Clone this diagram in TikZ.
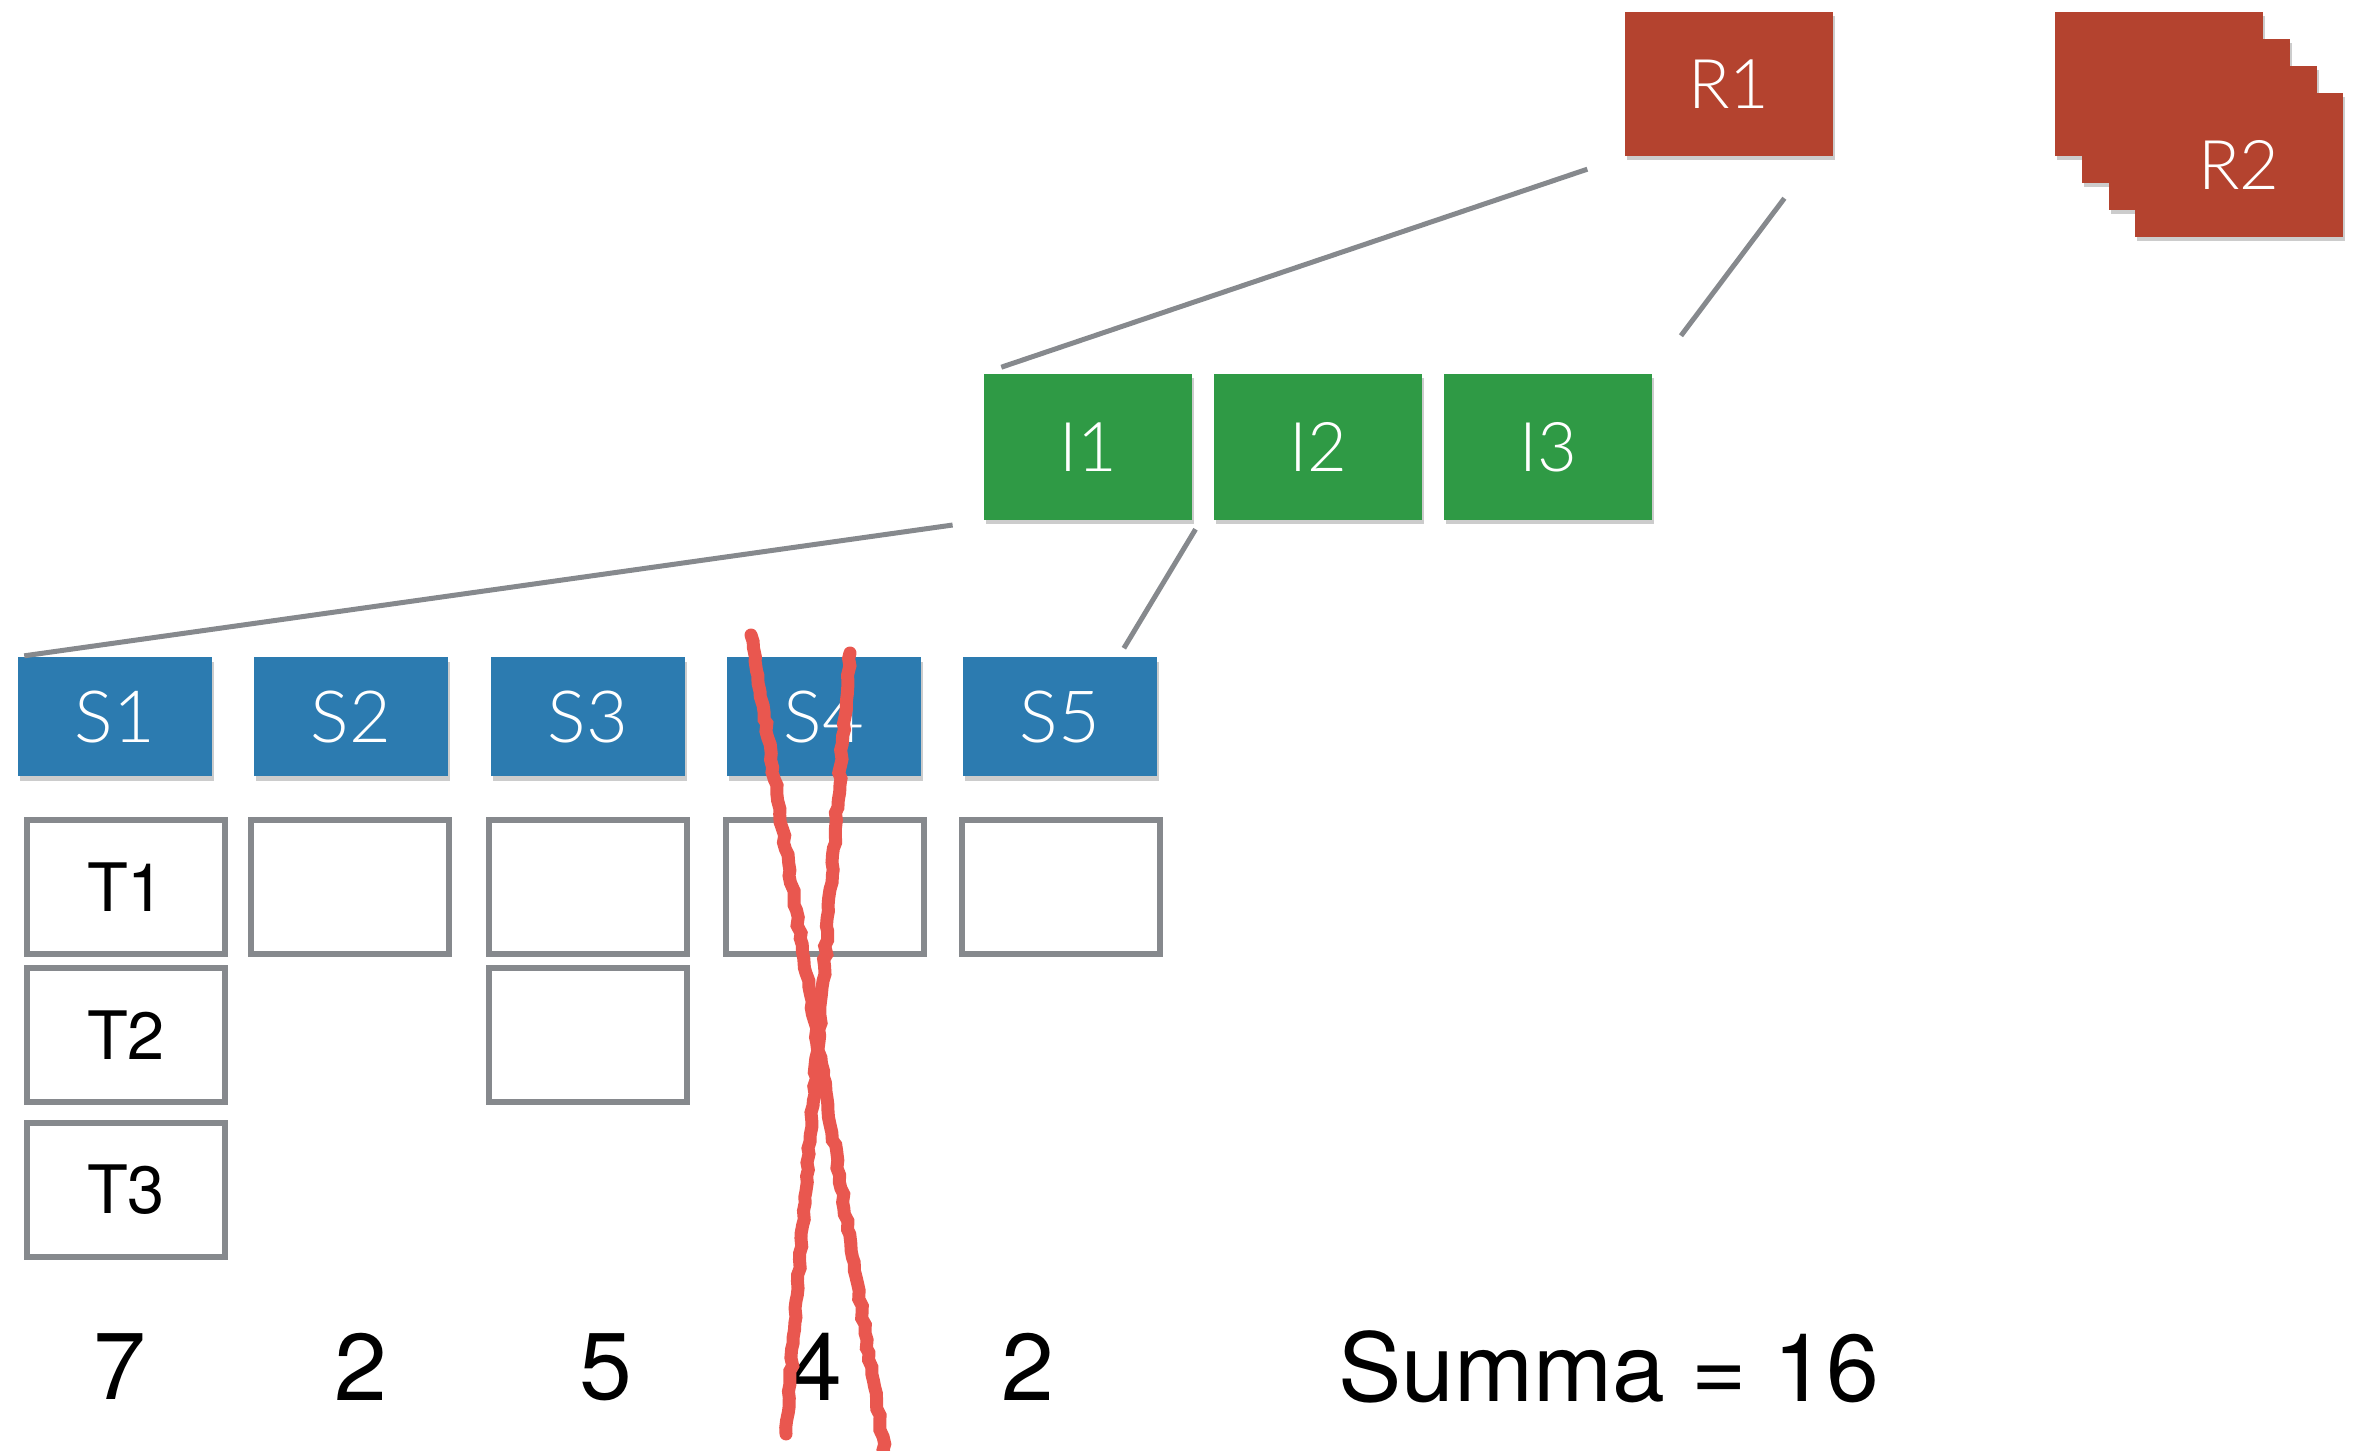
\documentclass[tikz,border=0pt]{standalone}
\usepackage{fontspec}
\setmainfont{TeX Gyre Heros}
\newfontfamily\cardfont{Lato}[UprightFont=* Light]
\usetikzlibrary{calc,shadows,decorations.pathmorphing}
\definecolor{regred}{HTML}{B4432F}
\definecolor{instgreen}{HTML}{2F9A45}
\definecolor{shardblue}{HTML}{2C7BB0}
\definecolor{linkgray}{HTML}{86898D}
\definecolor{crossred}{HTML}{E9574F}

\tikzset{
  card/.style={inner sep=0pt, text=white, font=\cardfont\fontsize{19.5}{21}\selectfont,
    drop shadow={shadow xshift=0.15mm, shadow yshift=-0.45mm, fill=black, opacity=0.2}},
  rbox/.style={card, fill=regred, minimum width=20.8mm, minimum height=14.4mm},
  ibox/.style={card, fill=instgreen, minimum width=20.8mm, minimum height=14.6mm},
  sbox/.style={card, fill=shardblue, minimum width=19.4mm, minimum height=11.9mm,
    font=\cardfont\fontsize{20.5}{22}\selectfont},
  tbox/.style={draw=linkgray, line width=0.55mm, fill=white, inner sep=0pt,
    minimum width=19.8mm, minimum height=13.4mm, font=\fontsize{19}{21}\selectfont},
  count/.style={inner sep=0pt, font=\fontsize{27}{30}\selectfont},
  link/.style={draw=linkgray, line width=0.5mm},
  cross/.style={draw=crossred, line width=1.3mm, line cap=round,
    decorate, decoration={random steps, segment length=0.7mm, amplitude=0.15mm}}
}

\begin{document}
\begin{tikzpicture}[x=0.1mm,y=-0.1mm]
\useasboundingbox (0,0) rectangle (2355,1451);

% regions
\node[rbox] (R1) at (1729,84) {R1};
\node[rbox] (R2d) at (2159,84) {};
\node[rbox] (R2c) at (2186,111) {};
\node[rbox] (R2b) at (2213,138) {};
\node[rbox] (R2) at (2239,165) {R2};

% instances
\node[ibox] (I1) at (1088,447) {I1};
\node[ibox] (I2) at (1318,447) {I2};
\node[ibox] (I3) at (1548,447) {I3};

% shards
\node[sbox] (S1) at (115,717) {S1};
\node[sbox] (S2) at (351,717) {S2};
\node[sbox] (S3) at (588,717) {S3};
\node[sbox] (S4) at (824,717) {S4};
\node[sbox] (S5) at (1060,717) {S5};

% tables
\node[tbox] (T11) at (126,887) {T1};
\node[tbox] (T21) at (126,1035) {T2};
\node[tbox] (T31) at (126,1190) {T3};
\node[tbox] (T12) at (350,887) {};
\node[tbox] (T13) at (588,887) {};
\node[tbox] (T23) at (588,1035) {};
\node[tbox] (T14) at (825,887) {};
\node[tbox] (T15) at (1061,887) {};

% counts
\node[count] (n1) at (120,1367) {7};
\node[count] (n2) at (361,1367) {2};
\node[count] (n3) at (606,1367) {5};
\node[count] (n4) at (816,1367) {4};
\node[count] (n5) at (1028,1367) {2};
\node[count] (sum) at (1609,1367) {Summa = 16};

\path[link]
  (R1.south west) edge[shorten <=3.9mm, shorten >=1.9mm] (I1.north west)
  (R1.-40) edge[shorten <=5.2mm, shorten >=4.7mm] (I3.north east)
  (I1.south west) edge[shorten <=3.1mm, shorten >=0.7mm] (S1.north west)
  ($(I1.south east)+(8,0)$) edge[shorten <=1mm, shorten >=1mm] ($(S5.north east)+(-39,0)$);

% S4 crossed out
\draw[cross] (751,635) -- (886,1460);
\draw[cross] (850,653) -- (786,1434);
\end{tikzpicture}
\end{document}
